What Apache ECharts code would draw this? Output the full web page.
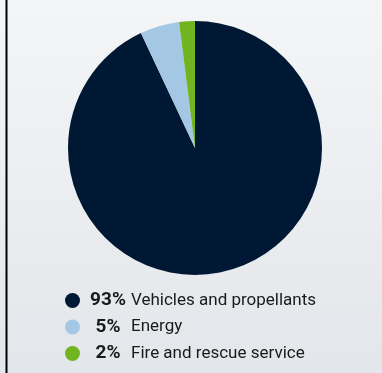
<!DOCTYPE html>
<html><head><meta charset="utf-8">
<script src="https://cdn.jsdelivr.net/npm/echarts@6/dist/echarts.min.js"></script>
<style>html,body{margin:0;padding:0;background:#eef0f2}#c{width:382px;height:373px}</style>
</head><body><div id="c"></div>
<script>
const categories = ['Vehicles and propellants', 'Energy', 'Fire and rescue service'];
const values = [93, 5, 2];
const colors = ['#001833', '#a4c7e4', '#70b41f'];

const chart = echarts.init(document.getElementById('c'), null, {renderer: 'canvas'});
const pctOf = {};
categories.forEach((c, i) => pctOf[c] = values[i]);
const FONT = '"Liberation Sans Narrow", Roboto, sans-serif';

chart.setOption({
  animation: false,
  graphic: [
    {type: 'rect', z: -10, silent: true, shape: {x: 0, y: 0, width: 382, height: 373},
     style: {fill: new echarts.graphic.LinearGradient(0, 0, 0, 1, [
       {offset: 0, color: '#f4f5f7'}, {offset: 1, color: '#e3e6ea'}])}},
    {type: 'line', z: 10, silent: true, shape: {x1: 6.5, y1: 0, x2: 6.5, y2: 373},
     style: {stroke: '#000', lineWidth: 2}}
  ],
  legend: {
    orient: 'vertical', left: 65, top: 291, height: 90, itemWidth: 15, itemHeight: 15, itemGap: 7.5,
    icon: 'circle', padding: 0,
    data: categories,
    formatter: name => '{p|' + pctOf[name] + '%}{n|' + name + '}',
    textStyle: {
      fontFamily: FONT, fontSize: 17, color: '#1a1a1a', lineHeight: 18,
      rich: {
        p: {fontFamily: FONT, fontWeight: 'bold', fontSize: 19, lineHeight: 18, color: '#1a1a1a', width: 46, align: 'right'},
        n: {fontFamily: FONT, fontSize: 17, lineHeight: 18, color: '#1a1a1a'}
      }
    }
  },
  series: [{
    type: 'pie', center: [195, 148], radius: [0, 127], startAngle: 90, clockwise: true,
    label: {show: false}, labelLine: {show: false}, silent: true,
    itemStyle: {borderWidth: 0},
    data: categories.map((c, i) => ({name: c, value: values[i], itemStyle: {color: colors[i]}}))
  }]
});
</script></body></html>
